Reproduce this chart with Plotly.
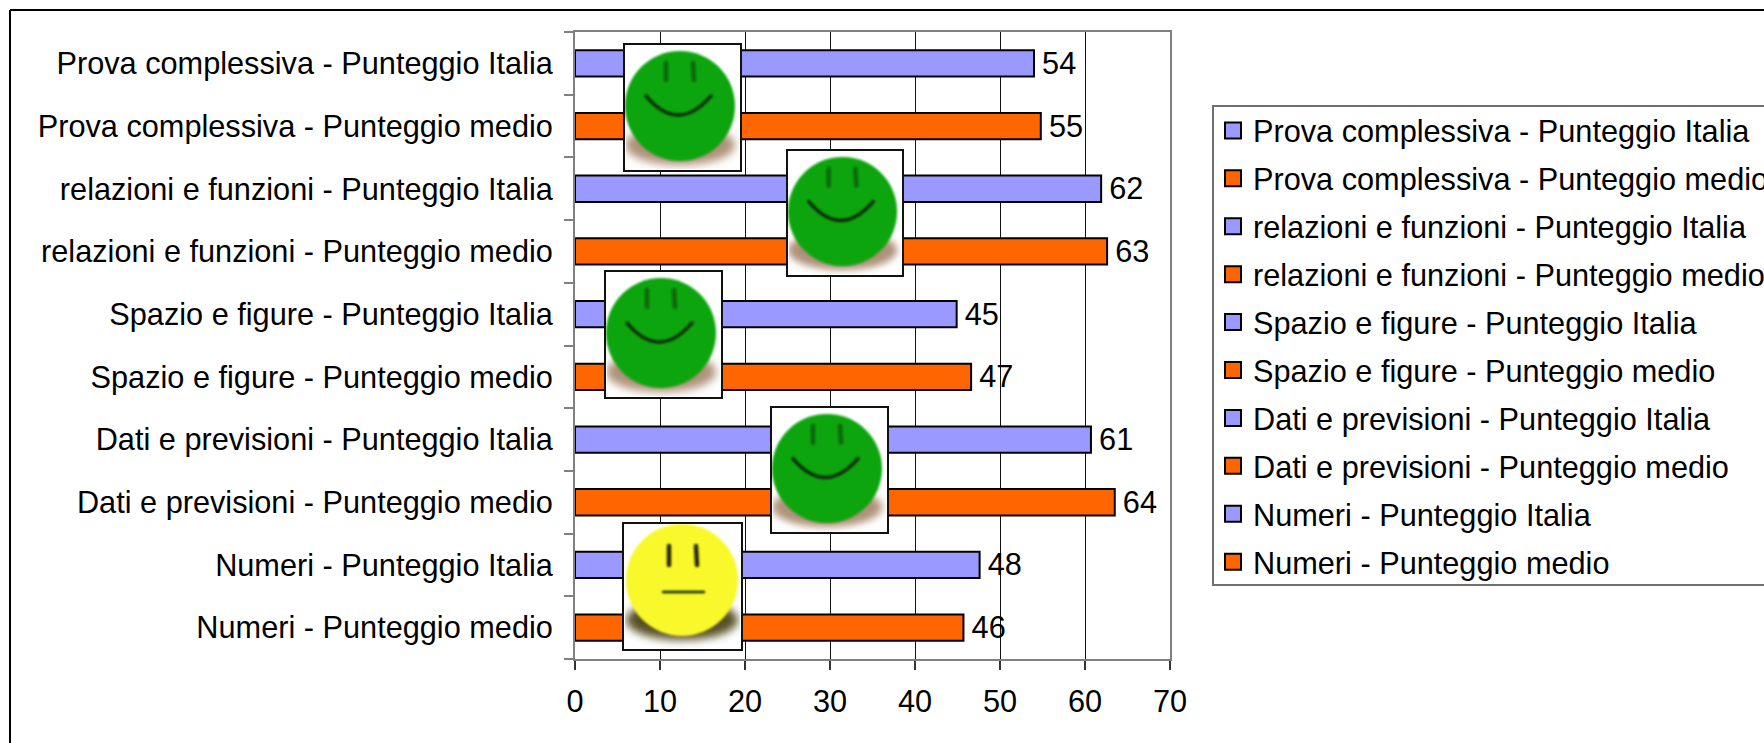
import base64
import plotly.graph_objects as go

# ---- data (top row first; the axis order below reverses it) ----
categories = [
    "Prova complessiva - Punteggio Italia", "Prova complessiva - Punteggio medio",
    "relazioni e funzioni - Punteggio Italia", "relazioni e funzioni - Punteggio medio",
    "Spazio e figure - Punteggio Italia", "Spazio e figure - Punteggio medio",
    "Dati e previsioni - Punteggio Italia", "Dati e previsioni - Punteggio medio",
    "Numeri - Punteggio Italia", "Numeri - Punteggio medio",
]
values = [54.0, 54.8, 61.9, 62.6, 44.9, 46.6, 60.7, 63.5, 47.6, 45.7]
x_ticks = [0, 10, 20, 30, 40, 50, 60, 70]
ITALIA = "#9999FF"
MEDIO = "#FF6600"
colors = [ITALIA if "Italia" in c else MEDIO for c in categories]

FONT = "Liberation Sans"
FS = 30.7
W, H = 1764, 743
L, R, T, B = 575, 1170, 32, 659


def px(x):
    return (x - L) / (R - L)


def py(y):
    return (B - y) / (B - T)


def face(w, h, cx, cy, r, fill, eye, eyes, eye_y, mouth, shadow, mw):
    svg = f'''<svg xmlns="http://www.w3.org/2000/svg" width="{w}" height="{h}" viewBox="0 0 {w} {h}">
<defs><filter id="b" x="-20%" y="-40%" width="140%" height="180%"><feGaussianBlur stdDeviation="4"/></filter>
<filter id="s" x="-20%" y="-20%" width="140%" height="140%"><feGaussianBlur stdDeviation="0.9"/></filter>
<clipPath id="c"><rect x="3" y="3" width="{w-6}" height="{h-6}"/></clipPath></defs>
<rect x="0" y="0" width="{w}" height="{h}" fill="#ffffff"/>
<g clip-path="url(#c)"><ellipse cx="{cx}" cy="{cy+r-16}" rx="{r}" ry="20" fill="{shadow[0]}" opacity="{shadow[1]}" filter="url(#b)"/></g>
<circle cx="{cx}" cy="{cy}" r="{r}" fill="{fill}" filter="url(#s)"/>
<g filter="url(#s)" fill="none" stroke="{eye}" stroke-linecap="round">
<line x1="{eyes[0]}" y1="{eye_y[0]}" x2="{eyes[0]}" y2="{eye_y[1]}" stroke-width="4.5"/>
<line x1="{eyes[1]}" y1="{eye_y[0]}" x2="{eyes[1]+1}" y2="{eye_y[1]}" stroke-width="4.5"/>
<path d="{mouth}" stroke="#0a2a0a" stroke-width="{mw}"/></g>
<rect x="1" y="1" width="{w-2}" height="{h-2}" fill="none" stroke="#111111" stroke-width="2"/>
</svg>'''
    return "data:image/svg+xml;base64," + base64.b64encode(svg.encode()).decode()


green = face(119, 129, 57, 63, 55, "#0AA50A", "#0B660B", (43, 70), (20, 37),
             "M 23 53 Q 55 91 88 53", ("#7a4a20", 0.6), 3.4)
yellow = face(121, 129, 60, 58, 56, "#F8F82A", "#2a2a00", (47, 74), (24, 43),
              "M 41 70 L 82 70", ("#3a3000", 0.85), 2.4)

faces = [
    (green, 623, 43, 119, 129),
    (green, 786, 149, 118, 128),
    (green, 604, 270, 119, 129),
    (green, 770, 406, 119, 128),
    (yellow, 622, 522, 121, 129),
]

fig = go.Figure()
fig.add_trace(go.Bar(
    y=categories, x=values, orientation="h", width=0.42,
    marker=dict(color=colors, line=dict(color="#000000", width=2)),
    text=values, texttemplate="\u2006%{x:.0f}", textposition="outside", constraintext="none",
    textfont=dict(family=FONT, size=FS, color="#000000"),
    cliponaxis=False, showlegend=False,
))
for name, col in zip(categories, colors):
    fig.add_trace(go.Scatter(
        x=[None], y=[None], mode="markers", name=name, legendgroup=name,
        marker=dict(symbol="square", size=16, color=col, line=dict(color="#000000", width=2)),
    ))

fig.update_layout(
    width=W, height=H, autosize=False,
    margin=dict(l=L, r=W - R, t=T, b=H - B, autoexpand=False),
    paper_bgcolor="#ffffff", plot_bgcolor="#ffffff",
    font=dict(family=FONT, size=FS, color="#000000"),
    xaxis=dict(range=[0, 70], tickvals=x_ticks, showgrid=True, gridcolor="#111111", gridwidth=1,
               zeroline=False, showline=True, linecolor="#808080", linewidth=2, mirror=True,
               ticks="outside", ticklen=9, tickwidth=1.5, tickcolor="#333333", ticklabelstandoff=5,
               tickfont=dict(family=FONT, size=FS, color="#000000")),
    yaxis=dict(type="category", categoryorder="array", categoryarray=categories[::-1],
               range=[-0.5, 9.5], tickson="boundaries", showgrid=False, zeroline=False,
               showline=True, linecolor="#808080", linewidth=2, mirror=True,
               ticks="outside", ticklen=9, tickwidth=2, tickcolor="#808080", ticklabelstandoff=14,
               tickfont=dict(family=FONT, size=FS, color="#000000")),
    legend=dict(x=px(1213), y=py(104), xanchor="left", yanchor="top", xref="paper", yref="paper",
                bgcolor="rgba(0,0,0,0)", borderwidth=0,
                font=dict(family=FONT, size=FS, color="#000000"),
                tracegroupgap=5, traceorder="grouped", itemsizing="trace"),
    shapes=[
        dict(type="line", xref="paper", yref="paper", x0=px(10), x1=px(10), y0=py(10), y1=py(743),
             line=dict(color="#000000", width=2), layer="above"),
        dict(type="line", xref="paper", yref="paper", x0=px(10), x1=px(1764), y0=py(10), y1=py(10),
             line=dict(color="#000000", width=2), layer="above"),
        dict(type="rect", xref="paper", yref="paper", x0=px(1213), x1=px(1800), y0=py(106), y1=py(585),
             line=dict(color="#707070", width=2), fillcolor="#ffffff", layer="above"),
    ],
    images=[dict(source=s, xref="paper", yref="paper", x=px(x), y=py(y),
                 sizex=w / (R - L), sizey=h / (B - T), xanchor="left", yanchor="top",
                 sizing="stretch", layer="above")
            for s, x, y, w, h in faces],
)
fig.write_html("out.html", config={"displayModeBar": False},
               post_script="document.body.style.margin='0';document.documentElement.style.overflow='hidden';")
